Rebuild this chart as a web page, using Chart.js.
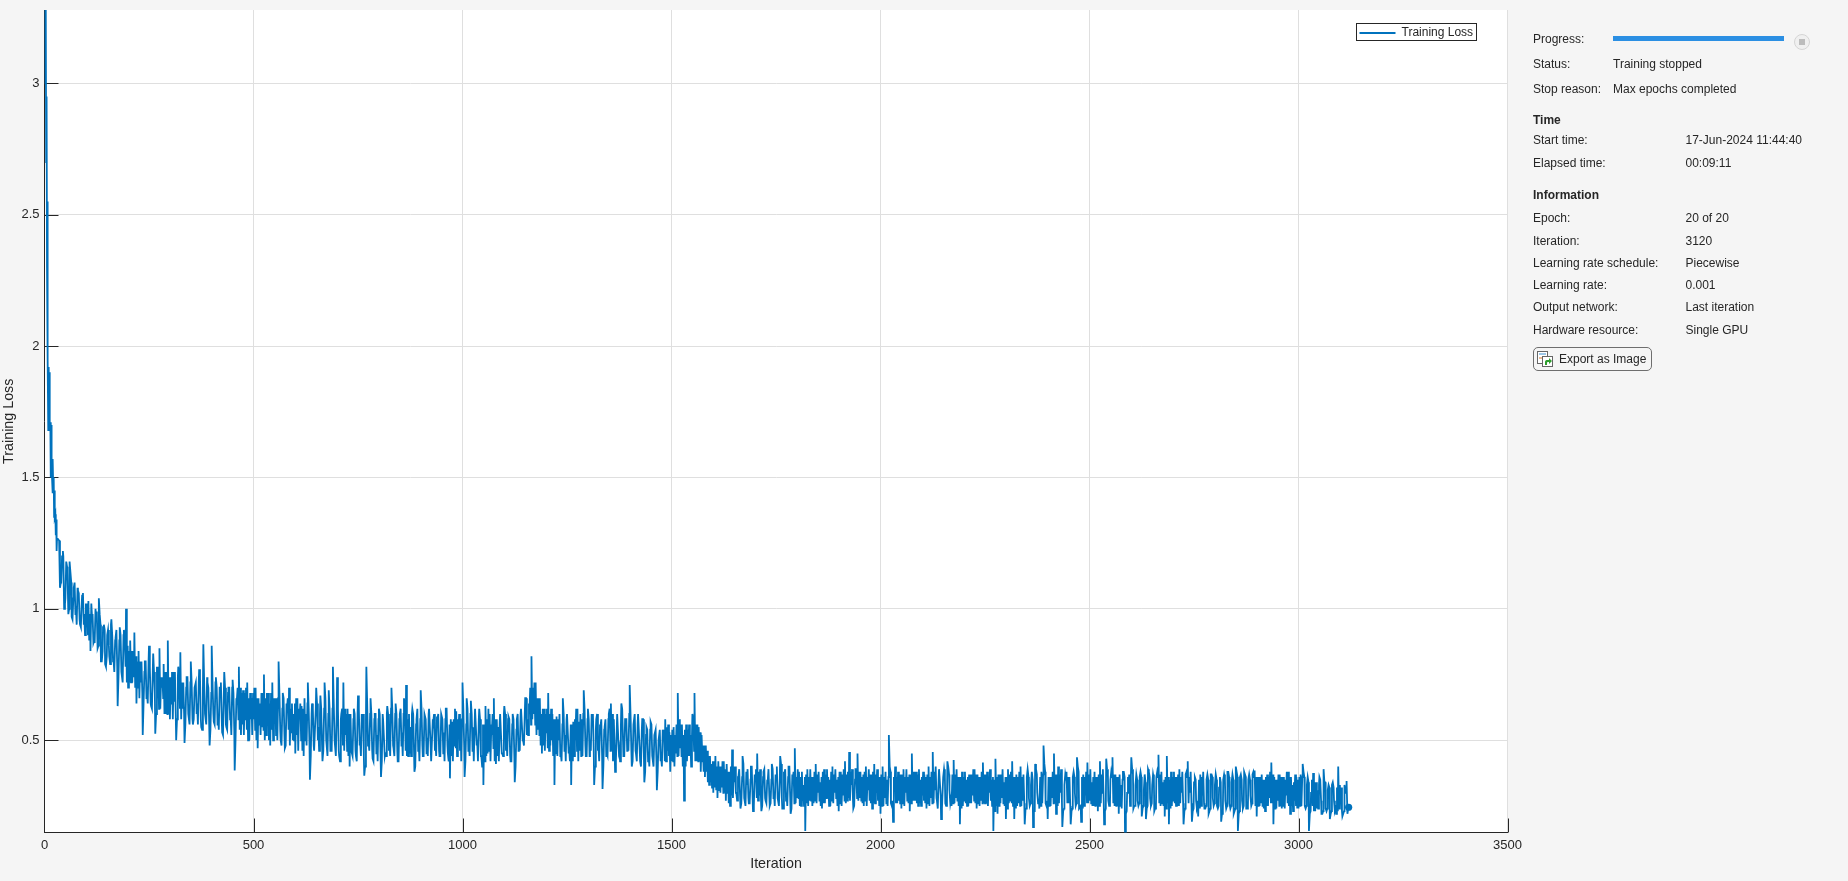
<!DOCTYPE html>
<html>
<head>
<meta charset="utf-8">
<script src="https://cdn.jsdelivr.net/npm/chart.js@4"></script>
<style>
html,body{margin:0;padding:0;width:1848px;height:881px;overflow:hidden;background:#f5f5f5;font-family:"Liberation Sans",Arial,sans-serif;color:#262626}
#wrap{position:absolute;left:0;top:0;width:1848px;height:881px}
.t{position:absolute;font-size:12px;line-height:14px;white-space:nowrap;transform:translateY(-7px)}
.b{font-weight:bold}
#bar{position:absolute;left:1613px;top:36px;width:171px;height:5px;background:#2b8fe3}
#stop{position:absolute;left:1794px;top:34px;width:14px;height:14px;border:1px solid #d4d4d4;border-radius:50%;background:#f0f0f0}
#stop i{position:absolute;left:4px;top:4px;width:6px;height:6px;background:#bcbcbc;display:block}
#btn{position:absolute;left:1533px;top:347px;width:117px;height:21.5px;border:1px solid #6e6e6e;border-radius:5px;background:#f5f5f5}
#btn span{position:absolute;left:25px;top:3.5px;font-size:12px;line-height:14px;white-space:nowrap}
#btn svg{position:absolute;left:3px;top:3px}
</style>
</head>
<body>
<div id="wrap"><canvas id="c" width="1848" height="881" style="display:block;width:1848px;height:881px"></canvas></div>

<div class="t" style="left:1533px;top:39px">Progress:</div><div id="bar"></div><div id="stop"><i></i></div>
<div class="t" style="left:1533px;top:64px">Status:</div><div class="t" style="left:1613px;top:64px">Training stopped</div>
<div class="t" style="left:1533px;top:89px">Stop reason:</div><div class="t" style="left:1613px;top:89px">Max epochs completed</div>
<div class="t b" style="left:1533px;top:120px">Time</div>
<div class="t" style="left:1533px;top:140px">Start time:</div><div class="t" style="left:1685.5px;top:140px">17-Jun-2024 11:44:40</div>
<div class="t" style="left:1533px;top:163px">Elapsed time:</div><div class="t" style="left:1685.5px;top:163px">00:09:11</div>
<div class="t b" style="left:1533px;top:195px">Information</div>
<div class="t" style="left:1533px;top:218px">Epoch:</div><div class="t" style="left:1685.5px;top:218px">20 of 20</div>
<div class="t" style="left:1533px;top:241px">Iteration:</div><div class="t" style="left:1685.5px;top:241px">3120</div>
<div class="t" style="left:1533px;top:263px">Learning rate schedule:</div><div class="t" style="left:1685.5px;top:263px">Piecewise</div>
<div class="t" style="left:1533px;top:285px">Learning rate:</div><div class="t" style="left:1685.5px;top:285px">0.001</div>
<div class="t" style="left:1533px;top:307px">Output network:</div><div class="t" style="left:1685.5px;top:307px">Last iteration</div>
<div class="t" style="left:1533px;top:330px">Hardware resource:</div><div class="t" style="left:1685.5px;top:330px">Single GPU</div>
<div id="btn">
<svg width="16" height="16" viewBox="0 0 16 16"><rect x="0.5" y="0.5" width="10" height="12" fill="#fff" stroke="#666"/><rect x="5.5" y="5.5" width="10" height="10" fill="#fff" stroke="#666"/><path d="M2 3h7" stroke="#3a8fd0"/><path d="M2 7h3" stroke="#d9772b"/><path d="M8 14v-3c0-1.500 1-2 2.500-2h1.500v-2l3 3-3 3v-2h-1c-1 0-1 .5-1 3z" fill="#2e9e2e"/></svg>
<span>Export as Image</span></div>

<script>
const xTickValues = [0,500,1000,1500,2000,2500,3000,3500];
const yTickValues = [0.5,1,1.5,2,2.5,3];
const yTickLabels = ["0.5","1","1.5","2","2.5","3"];

const iterationsEarly = [1,2,3,4,5,6,7,8,9,10,11,12,13,14,15,16,17,18,19,20,21,22,23,24,25,26,27,28,29,30];
const lossEarly = [3.4,3.0,3.3,2.7,2.95,2.3,2.55,1.95,1.68,1.92,1.72,1.9,1.68,1.71,1.5,1.7,1.55,1.5,1.44,1.57,1.45,1.5,1.35,1.45,1.35,1.36,1.28,1.34,1.22,1.27];

// band extremes read every 5 iterations from 35 to 3120
const readingStart = 35, readingEnd = 3120, readingEvery = 5, coreOffset = 2, flankOffset = 4;
const lossPart1 = [
1.26,1.1,1.2,1.04,1.14,1.18,0.97,1.08,1.01,1.07,0.94,1.05,0.98,0.93,1.03,0.84,0.98,0.87,0.99,1.04,
0.8,0.93,0.79,0.9,0.82,0.96,0.81,0.89,0.63,0.93,0.76,0.92,1.0,0.7,0.88,0.72,0.91,0.64,0.84,0.72,
0.52,0.8,0.68,0.86,0.63,0.83,0.525,0.66,0.85,0.7,0.79,0.6,0.88,0.58,0.76,0.65,0.5,0.78,0.835,0.62,
0.49,0.74,0.6,0.8,0.56,0.7,0.64,0.77,0.55,0.865,0.6,0.72,0.48,0.86,0.57,0.74,0.6,0.7,0.53,0.76,
0.55,0.7,0.6,0.73,0.385,0.65,0.78,0.52,0.69,0.58,0.72,0.5,0.66,0.58,0.7,0.47,0.64,0.55,0.75,0.52,
0.68,0.48,0.72,0.57,0.66,0.8,0.5,0.68,0.47,0.62,0.7,0.53,0.6,0.45,0.66,0.58,0.63,0.44,0.6,0.72,
0.35,0.64,0.46,0.7,0.55,0.67,0.42,0.72,0.5,0.69,0.46,0.78,0.48,0.74,0.44,0.6,0.72,0.52,0.62,0.4];
const lossPart2 = [
0.46,0.62,0.44,0.67,0.5,0.56,0.365,0.78,0.5,0.66,0.43,0.6,0.52,0.62,0.36,0.58,0.45,0.63,0.5,0.7,
0.47,0.64,0.42,0.6,0.53,0.66,0.71,0.44,0.55,0.62,0.38,0.58,0.5,0.69,0.44,0.6,0.51,0.62,0.42,0.57,
0.5,0.58,0.44,0.6,0.53,0.62,0.45,0.355,0.57,0.48,0.61,0.52,0.58,0.72,0.36,0.66,0.5,0.65,0.55,0.62,
0.5,0.62,0.44,0.33,0.63,0.45,0.6,0.52,0.66,0.41,0.55,0.6,0.45,0.63,0.52,0.59,0.42,0.6,0.34,0.58,
0.48,0.62,0.5,0.66,0.58,0.6,0.82,0.6,0.72,0.54,0.66,0.45,0.62,0.53,0.68,0.48,0.6,0.33,0.59,0.5,
0.45,0.66,0.52,0.6,0.47,0.33,0.57,0.5,0.62,0.46,0.58,0.69,0.44,0.62,0.5,0.56,0.33,0.58,0.48,0.55,
0.315,0.55,0.45,0.6,0.64,0.42,0.38,0.6,0.47,0.64,0.44,0.58,0.5,0.71,0.4,0.56,0.45,0.6,0.42,0.58,
0.34,0.55,0.45,0.57,0.44,0.52,0.31,0.5,0.44,0.53,0.58,0.46,0.53,0.42,0.55,0.45,0.68,0.47,0.56,0.27,
0.56,0.44,0.52,0.6,0.68,0.42,0.55,0.38,0.48,0.36,0.46,0.33,0.41,0.3,0.44,0.28,0.4,0.32,0.42,0.27];
const lossPart3 = [
0.38,0.25,0.465,0.34,0.3,0.36,0.24,0.44,0.28,0.33,0.26,0.4,0.23,0.35,0.45,0.29,0.23,0.38,0.27,0.34,
0.25,0.41,0.3,0.36,0.27,0.44,0.24,0.37,0.3,0.4,0.22,0.35,0.47,0.28,0.38,0.25,0.33,0.155,0.39,0.27,
0.36,0.26,0.41,0.3,0.34,0.24,0.39,0.28,0.36,0.25,0.4,0.3,0.35,0.23,0.38,0.29,0.42,0.27,0.455,0.33,
0.24,0.39,0.45,0.28,0.36,0.25,0.4,0.31,0.37,0.24,0.41,0.3,0.36,0.22,0.4,0.28,0.35,0.52,0.26,0.19,
0.4,0.26,0.37,0.24,0.39,0.3,0.36,0.23,0.45,0.27,0.38,0.25,0.35,0.29,0.37,0.24,0.4,0.28,0.455,0.31,
0.27,0.39,0.2,0.36,0.26,0.42,0.31,0.25,0.425,0.28,0.36,0.18,0.38,0.27,0.35,0.25,0.37,0.29,0.39,0.24,
0.36,0.27,0.415,0.26,0.38,0.3,0.35,0.155,0.43,0.22,0.37,0.28,0.34,0.2,0.39,0.27,0.42,0.2,0.37,0.26];
const lossPart4 = [
0.4,0.27,0.18,0.36,0.28,0.33,0.17,0.41,0.3,0.24,0.38,0.48,0.26,0.2,0.36,0.28,0.45,0.22,0.4,0.3,
0.17,0.33,0.38,0.26,0.18,0.36,0.3,0.435,0.24,0.19,0.37,0.29,0.415,0.27,0.34,0.25,0.36,0.23,0.42,0.3,
0.18,0.43,0.27,0.35,0.435,0.25,0.36,0.22,0.33,0.38,0.14,0.3,0.37,0.435,0.24,0.33,0.27,0.36,0.21,0.31,
0.2,0.39,0.28,0.33,0.23,0.36,0.445,0.25,0.34,0.21,0.44,0.18,0.38,0.27,0.36,0.25,0.39,0.3,0.18,0.37,
0.42,0.3,0.19,0.34,0.27,0.21,0.37,0.29,0.24,0.35,0.22,0.37,0.28,0.33,0.25,0.32,0.19,0.35,0.27,0.38,
0.26,0.34,0.22,0.4,0.155,0.36,0.27,0.38,0.24,0.35,0.29,0.37,0.385,0.21,0.36,0.26,0.35,0.23,0.37,0.28,
0.415,0.18,0.35,0.27,0.37,0.24,0.36,0.29,0.38,0.22,0.33,0.27,0.36,0.24,0.37,0.41,0.25,0.33,0.155,0.3,
0.375,0.23,0.31,0.36,0.22,0.39,0.24,0.31,0.2,0.33,0.27,0.22,0.4,0.26,0.21,0.33,0.345,0.245];

// solid part of the band, read just after each reading above
const lossCore1 = [
1.08,1.2,1.0,1.18,0.98,1.14,0.96,1.1,0.94,1.06,0.93,1.06,0.9,1.02,0.88,1.02,0.87,1.0,0.85,0.98,
0.8,0.94,0.78,0.92,0.79,0.9,0.76,0.92,0.74,0.9,0.72,0.88,0.72,0.84,0.72,0.84,0.7,0.8,0.66,0.8,
0.64,0.8,0.64,0.78,0.62,0.76,0.6,0.78,0.62,0.74,0.6,0.76,0.6,0.74,0.58,0.76,0.58,0.74,0.58,0.72,
0.56,0.74,0.56,0.72,0.58,0.72,0.56,0.74,0.54,0.72,0.56,0.7,0.54,0.72,0.56,0.7,0.54,0.72,0.52,0.7,
0.54,0.7,0.52,0.68,0.5,0.7,0.54,0.68,0.52,0.7,0.5,0.68,0.52,0.7,0.5,0.66,0.52,0.68,0.5,0.68,
0.5,0.68,0.5,0.66,0.5,0.68,0.48,0.66,0.48,0.66,0.48,0.64,0.5,0.66,0.46,0.64,0.46,0.66,0.48,0.62,
0.44,0.62,0.46,0.64,0.46,0.62,0.46,0.66,0.44,0.62,0.46,0.64,0.44,0.62,0.42,0.62,0.46,0.6,0.44,0.6];
const lossCore2 = [
0.44,0.6,0.42,0.62,0.44,0.6,0.4,0.64,0.46,0.6,0.42,0.6,0.42,0.6,0.42,0.58,0.44,0.6,0.44,0.62,
0.44,0.6,0.42,0.62,0.44,0.62,0.44,0.6,0.44,0.6,0.4,0.62,0.42,0.62,0.44,0.58,0.44,0.62,0.42,0.6,
0.44,0.6,0.44,0.58,0.42,0.62,0.42,0.58,0.42,0.62,0.44,0.6,0.42,0.62,0.42,0.62,0.44,0.6,0.42,0.62,
0.42,0.58,0.4,0.56,0.44,0.62,0.42,0.6,0.42,0.58,0.42,0.6,0.44,0.6,0.44,0.58,0.42,0.58,0.4,0.6,
0.46,0.62,0.48,0.66,0.52,0.7,0.58,0.72,0.52,0.66,0.48,0.62,0.46,0.62,0.46,0.62,0.44,0.58,0.44,0.6,
0.42,0.6,0.42,0.6,0.42,0.56,0.44,0.62,0.42,0.6,0.44,0.62,0.44,0.58,0.46,0.6,0.4,0.6,0.42,0.58,
0.4,0.58,0.44,0.62,0.46,0.58,0.42,0.6,0.42,0.62,0.44,0.58,0.46,0.6,0.42,0.6,0.42,0.6,0.4,0.58,
0.38,0.54,0.4,0.56,0.4,0.54,0.38,0.54,0.4,0.54,0.42,0.56,0.38,0.54,0.4,0.56,0.44,0.56,0.4,0.54,
0.42,0.56,0.4,0.58,0.42,0.56,0.42,0.52,0.38,0.48,0.34,0.44,0.32,0.42,0.31,0.42,0.3,0.42,0.3,0.41];
const lossCore3 = [
0.26,0.4,0.28,0.4,0.27,0.39,0.26,0.41,0.25,0.39,0.26,0.4,0.25,0.39,0.27,0.39,0.25,0.39,0.26,0.39,
0.26,0.39,0.25,0.4,0.25,0.41,0.24,0.39,0.25,0.4,0.24,0.38,0.26,0.39,0.25,0.38,0.25,0.37,0.25,0.39,
0.25,0.38,0.26,0.38,0.25,0.38,0.26,0.39,0.25,0.38,0.26,0.39,0.25,0.38,0.25,0.39,0.26,0.38,0.27,0.39,
0.25,0.39,0.27,0.38,0.26,0.38,0.25,0.39,0.26,0.38,0.26,0.39,0.25,0.37,0.25,0.38,0.25,0.4,0.25,0.36,
0.26,0.38,0.26,0.37,0.25,0.39,0.26,0.37,0.27,0.38,0.26,0.39,0.25,0.38,0.26,0.37,0.25,0.38,0.26,0.4,
0.24,0.39,0.24,0.39,0.25,0.4,0.26,0.37,0.26,0.39,0.25,0.36,0.25,0.38,0.25,0.37,0.26,0.39,0.26,0.37,
0.25,0.38,0.26,0.37,0.25,0.39,0.25,0.35,0.25,0.37,0.26,0.39,0.25,0.36,0.26,0.38,0.25,0.36,0.25,0.38];
const lossCore4 = [
0.25,0.37,0.24,0.39,0.25,0.38,0.23,0.39,0.26,0.36,0.26,0.41,0.25,0.36,0.25,0.38,0.26,0.37,0.26,0.39,
0.23,0.37,0.26,0.36,0.23,0.38,0.25,0.4,0.24,0.36,0.25,0.38,0.26,0.39,0.25,0.38,0.25,0.37,0.26,0.39,
0.23,0.39,0.25,0.38,0.26,0.37,0.25,0.37,0.24,0.38,0.22,0.36,0.25,0.39,0.25,0.37,0.25,0.38,0.24,0.37,
0.24,0.38,0.25,0.37,0.24,0.38,0.26,0.38,0.25,0.36,0.26,0.35,0.25,0.38,0.25,0.37,0.26,0.38,0.23,0.38,
0.26,0.38,0.23,0.36,0.24,0.35,0.25,0.38,0.24,0.37,0.23,0.37,0.25,0.37,0.24,0.36,0.22,0.37,0.24,0.38,
0.24,0.37,0.23,0.38,0.22,0.37,0.24,0.38,0.24,0.37,0.25,0.38,0.25,0.36,0.25,0.37,0.24,0.36,0.25,0.38,
0.26,0.36,0.24,0.37,0.25,0.36,0.24,0.38,0.25,0.36,0.23,0.37,0.24,0.36,0.25,0.38,0.24,0.36,0.22,0.35,
0.23,0.34,0.24,0.35,0.22,0.34,0.23,0.33,0.22,0.34,0.23,0.32,0.24,0.32,0.22,0.31,0.22];

// other edge of the solid part, read just before the next extreme
const lossFlank1 = [
1.1,1.22,1.02,1.16,1.0,1.1,1.04,0.98,1.08,0.96,1.02,0.94,1.02,0.9,0.98,0.96,0.88,0.96,0.86,0.94,
0.84,0.92,0.82,0.86,0.94,0.8,0.88,0.78,0.88,0.76,0.9,0.78,0.86,0.72,0.84,0.74,0.82,0.7,0.8,0.68,
0.76,0.66,0.8,0.64,0.76,0.68,0.78,0.62,0.74,0.66,0.76,0.6,0.74,0.64,0.76,0.6,0.74,0.62,0.72,0.6,
0.7,0.6,0.72,0.58,0.7,0.6,0.72,0.58,0.7,0.6,0.74,0.56,0.68,0.6,0.72,0.56,0.7,0.58,0.68,0.56,
0.68,0.58,0.7,0.54,0.66,0.58,0.7,0.56,0.68,0.54,0.66,0.58,0.68,0.54,0.66,0.56,0.68,0.54,0.66,0.56,
0.64,0.54,0.66,0.52,0.66,0.54,0.62,0.52,0.64,0.54,0.62,0.5,0.64,0.52,0.62,0.5,0.62,0.5,0.64,0.48,
0.6,0.48,0.62,0.5,0.6,0.48,0.62,0.5,0.6,0.46,0.62,0.5,0.6,0.46,0.58,0.48,0.62,0.46,0.6,0.46];
const lossFlank2 = [
0.58,0.46,0.6,0.48,0.6,0.44,0.58,0.48,0.6,0.46,0.58,0.45,0.58,0.44,0.6,0.44,0.6,0.46,0.62,0.48,
0.6,0.46,0.58,0.48,0.6,0.46,0.58,0.45,0.6,0.46,0.56,0.46,0.58,0.48,0.6,0.45,0.6,0.47,0.58,0.46,
0.59,0.46,0.6,0.45,0.58,0.48,0.56,0.44,0.58,0.47,0.58,0.46,0.58,0.48,0.56,0.46,0.6,0.46,0.56,0.48,
0.58,0.44,0.56,0.42,0.58,0.46,0.56,0.47,0.58,0.44,0.57,0.45,0.6,0.46,0.58,0.44,0.56,0.44,0.54,0.46,
0.6,0.5,0.6,0.52,0.64,0.56,0.7,0.56,0.66,0.52,0.6,0.48,0.6,0.47,0.6,0.5,0.58,0.45,0.58,0.44,
0.56,0.46,0.58,0.45,0.56,0.42,0.58,0.46,0.57,0.44,0.6,0.48,0.58,0.44,0.6,0.46,0.54,0.46,0.56,0.44,
0.54,0.44,0.58,0.46,0.6,0.46,0.54,0.46,0.56,0.5,0.58,0.46,0.6,0.46,0.56,0.46,0.56,0.46,0.54,0.44,
0.52,0.42,0.54,0.44,0.52,0.42,0.5,0.42,0.54,0.42,0.55,0.44,0.52,0.42,0.52,0.44,0.58,0.44,0.52,0.4,
0.54,0.44,0.52,0.46,0.56,0.42,0.53,0.42,0.48,0.38,0.44,0.34,0.42,0.32,0.4,0.31,0.4,0.3,0.39,0.3];
const lossFlank3 = [
0.38,0.29,0.4,0.3,0.36,0.29,0.36,0.28,0.38,0.28,0.35,0.28,0.37,0.28,0.38,0.28,0.36,0.28,0.35,0.29,
0.35,0.28,0.37,0.28,0.35,0.28,0.38,0.27,0.36,0.28,0.37,0.26,0.36,0.28,0.36,0.27,0.36,0.26,0.36,0.27,
0.36,0.27,0.37,0.27,0.36,0.26,0.37,0.28,0.35,0.27,0.37,0.28,0.36,0.26,0.37,0.27,0.37,0.28,0.38,0.28,
0.35,0.28,0.38,0.27,0.37,0.27,0.36,0.27,0.37,0.26,0.37,0.27,0.36,0.25,0.36,0.26,0.36,0.38,0.27,0.33,
0.36,0.27,0.37,0.26,0.36,0.27,0.37,0.26,0.38,0.27,0.37,0.26,0.36,0.27,0.36,0.26,0.36,0.26,0.38,0.28,
0.35,0.29,0.32,0.36,0.27,0.37,0.28,0.26,0.37,0.27,0.36,0.24,0.36,0.26,0.36,0.26,0.37,0.27,0.37,0.26,
0.36,0.26,0.37,0.26,0.36,0.27,0.36,0.23,0.36,0.25,0.37,0.26,0.36,0.24,0.37,0.26,0.36,0.24,0.36,0.25];
const lossFlank4 = [
0.36,0.26,0.24,0.36,0.26,0.35,0.23,0.37,0.27,0.25,0.37,0.38,0.27,0.25,0.36,0.26,0.37,0.25,0.37,0.27,
0.24,0.35,0.36,0.25,0.24,0.36,0.26,0.38,0.25,0.24,0.36,0.26,0.37,0.26,0.36,0.25,0.36,0.25,0.37,0.27,
0.24,0.37,0.26,0.36,0.37,0.25,0.36,0.25,0.35,0.36,0.23,0.34,0.36,0.37,0.25,0.35,0.26,0.36,0.25,0.34,
0.25,0.36,0.26,0.35,0.25,0.36,0.37,0.26,0.35,0.24,0.36,0.24,0.36,0.26,0.36,0.25,0.36,0.26,0.24,0.36,
0.36,0.26,0.24,0.35,0.25,0.24,0.36,0.26,0.25,0.35,0.24,0.36,0.26,0.35,0.25,0.34,0.23,0.35,0.25,0.36,
0.25,0.35,0.24,0.36,0.23,0.35,0.25,0.36,0.25,0.35,0.26,0.36,0.36,0.25,0.36,0.25,0.35,0.25,0.36,0.26,
0.37,0.24,0.35,0.25,0.36,0.25,0.35,0.26,0.36,0.25,0.34,0.25,0.35,0.25,0.36,0.36,0.25,0.34,0.23,0.25,
0.34,0.24,0.33,0.27,0.23,0.34,0.24,0.32,0.23,0.32,0.24,0.23,0.33,0.23,0.23,0.3,0.24];

const bandReadings = [...lossPart1, ...lossPart2, ...lossPart3, ...lossPart4];
const coreReadings = [...lossCore1, ...lossCore2, ...lossCore3, ...lossCore4];
const flankReadings = [...lossFlank1, ...lossFlank2, ...lossFlank3, ...lossFlank4];
const iterations = [...iterationsEarly];
const lossReadings = [...lossEarly];
bandReadings.forEach((v, i) => {
  const it = readingStart + i * readingEvery;
  iterations.push(it); lossReadings.push(v);
  if (i < coreReadings.length) {
    iterations.push(it + coreOffset, it + flankOffset);
    lossReadings.push(coreReadings[i], flankReadings[i]);
  }
});

const AX = '#262626', GRID = '#dfdfdf';
const plotBack = {
  id:'plotBack',
  beforeDraw(chart){
    const {ctx,chartArea:a} = chart;
    ctx.save(); ctx.fillStyle='#fff'; ctx.fillRect(a.left,a.top,a.right-a.left,a.bottom-a.top); ctx.restore();
  },
  afterLayout(chart){
    const l = chart.legend; if(!l) return;
    const w = l.right-l.left, h = l.bottom-l.top;
    l.left = 1356.5; l.right = l.left+w; l.top = 24; l.bottom = 24+h;
  },
  beforeDatasetsDraw(chart){
    const {ctx,chartArea:a,scales:{x,y}} = chart;
    ctx.save(); ctx.strokeStyle=AX; ctx.lineWidth=1; ctx.beginPath();
    xTickValues.slice(1).forEach(v=>{const p=Math.round(x.getPixelForValue(v))+.5;ctx.moveTo(p,a.bottom);ctx.lineTo(p,a.bottom-14);});
    yTickValues.forEach(v=>{const p=Math.round(y.getPixelForValue(v))+.5;ctx.moveTo(a.left,p);ctx.lineTo(a.left+14,p);});
    ctx.stroke(); ctx.restore();
  },
  afterDraw(chart){
    const {ctx} = chart;
    ctx.save(); ctx.strokeStyle=AX; ctx.lineWidth=1; ctx.strokeRect(1356.5,23.5,120,17); ctx.restore();
  }
};

new Chart(document.getElementById('c'),{
  type:'line',
  data:{
    labels:iterations,
    datasets:[{
      label:'Training Loss',
      data:lossReadings,
      borderColor:'#0072BD',
      backgroundColor:'#0072BD',
      borderWidth:1.8,
      tension:0,
      fill:false,
      pointBorderWidth:0,
      pointRadius:c=>c.dataIndex===lossReadings.length-1?3.6:0,
      pointHoverRadius:0
    }]
  },
  options:{
    responsive:false,
    animation:false,
    devicePixelRatio:1,
    layout:{padding:{left:0,top:10,right:340.5,bottom:0}},
    interaction:{mode:null},
    scales:{
      x:{
        type:'linear',min:0,max:3500,
        afterBuildTicks:s=>{s.ticks=xTickValues.map(v=>({value:v}));},
        afterFit:s=>{s.height=48.5;},
        border:{color:AX,width:1},
        grid:{color:GRID,lineWidth:1,drawTicks:false},
        ticks:{color:AX,font:{family:'Liberation Sans',size:13},padding:5.5,maxRotation:0,autoSkip:false,callback:v=>String(v)},
        title:{display:true,text:'Iteration',color:AX,font:{family:'Liberation Sans',size:14.3},padding:{top:0,bottom:8.2}}
      },
      y:{
        type:'linear',min:0.149,max:3.279,
        afterBuildTicks:s=>{s.ticks=yTickValues.map(v=>({value:v}));},
        afterFit:s=>{s.width=44.5;s.paddingTop=0;s.paddingBottom=0;},
        border:{color:AX,width:1},
        grid:{color:GRID,lineWidth:1,drawTicks:false},
        ticks:{color:AX,font:{family:'Liberation Sans',size:13},padding:5,autoSkip:false,callback:v=>yTickLabels[yTickValues.indexOf(v)]},
        title:{display:true,text:'Training Loss',color:AX,font:{family:'Liberation Sans',size:14.3},padding:{top:0,bottom:0}}
      }
    },
    plugins:{
      tooltip:{enabled:false},
      title:{display:false},
      legend:{
        display:true,position:'chartArea',align:'start',
        labels:{
          usePointStyle:true,pointStyle:'line',pointStyleWidth:36,boxHeight:10,color:AX,padding:3,font:{family:'Liberation Sans',size:12},
          generateLabels:ch=>Chart.defaults.plugins.legend.labels.generateLabels(ch).map(l=>Object.assign(l,{lineWidth:2,strokeStyle:'#0072BD'}))
        }
      }
    }
  },
  plugins:[plotBack]
});
</script>
</body>
</html>
